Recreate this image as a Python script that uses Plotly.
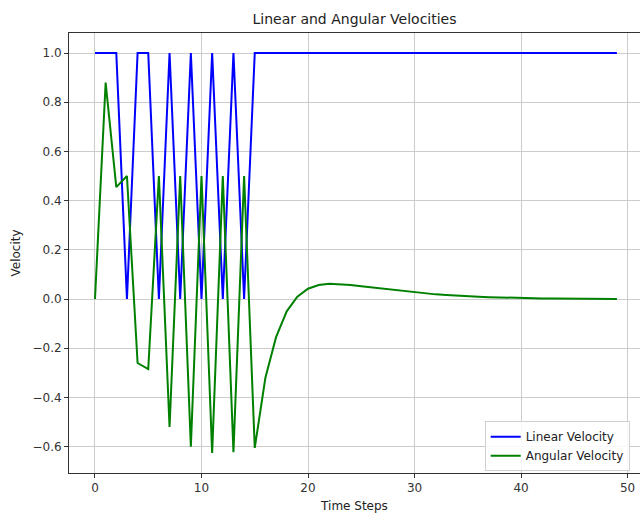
import plotly.graph_objects as go

time_steps = list(range(50))
linear_velocity = [1, 1, 1, 0, 1, 1, 0, 1, 0, 1,
                   0, 1, 0, 1, 0, 1] + [1] * 34
angular_velocity = [0.0, 0.88, 0.455, 0.50, -0.26, -0.285, 0.50, -0.52, 0.50, -0.60,
                    0.50, -0.626, 0.50, -0.622, 0.50, -0.605, -0.32, -0.155, -0.05, 0.01,
                    0.042, 0.057, 0.062, 0.061, 0.057, 0.052, 0.047, 0.042, 0.037, 0.032,
                    0.027, 0.023, 0.019, 0.016, 0.013, 0.011, 0.009, 0.0075, 0.006, 0.005,
                    0.004, 0.0033, 0.0027, 0.0022, 0.0018, 0.0015, 0.0012, 0.001, 0.0008, 0.0006]

font = "DejaVu Sans, sans-serif"
fig = go.Figure()
fig.add_trace(go.Scatter(x=time_steps, y=linear_velocity, mode="lines",
                         name="Linear Velocity", line=dict(color="#0000ff", width=2)))
fig.add_trace(go.Scatter(x=time_steps, y=angular_velocity, mode="lines",
                         name="Angular Velocity", line=dict(color="#008000", width=2)))

axis_common = dict(showgrid=True, gridcolor="#cccccc", gridwidth=1,
                   showline=True, linecolor="#333333", linewidth=1,
                   ticks="outside", ticklen=4, tickcolor="#333333",
                   zeroline=False, tickfont=dict(family=font, size=12, color="#333333"))

fig.update_layout(
    width=640, height=513,
    margin=dict(l=69, r=0, t=33, b=40),
    paper_bgcolor="white", plot_bgcolor="white",
    font=dict(family=font, size=12, color="#222222"),
    title=dict(text="Linear and Angular Velocities", x=0.5, xref="paper",
               y=1 - 19 / 513, yanchor="middle",
               font=dict(family=font, size=14, color="#222222")),
    xaxis=dict(range=[-2.44, 51.17], dtick=10, tick0=0, mirror=True,
               title=dict(text="Time Steps", standoff=8,
                          font=dict(family=font, size=12, color="#222222")),
               **axis_common),
    yaxis=dict(range=[-0.707, 1.0813], dtick=0.2, tick0=0, tickformat=".1f", mirror=False,
               title=dict(text="Velocity", standoff=9,
                          font=dict(family=font, size=12, color="#222222")),
               **axis_common),
    legend=dict(x=0.728, y=0.004, xanchor="left", yanchor="bottom",
                bgcolor="rgba(255,255,255,0.85)", bordercolor="#d0d0d0", borderwidth=1,
                font=dict(family=font, size=12, color="#222222"),
                tracegroupgap=0, itemwidth=30),
    showlegend=True,
)

fig.write_html("out.html")
